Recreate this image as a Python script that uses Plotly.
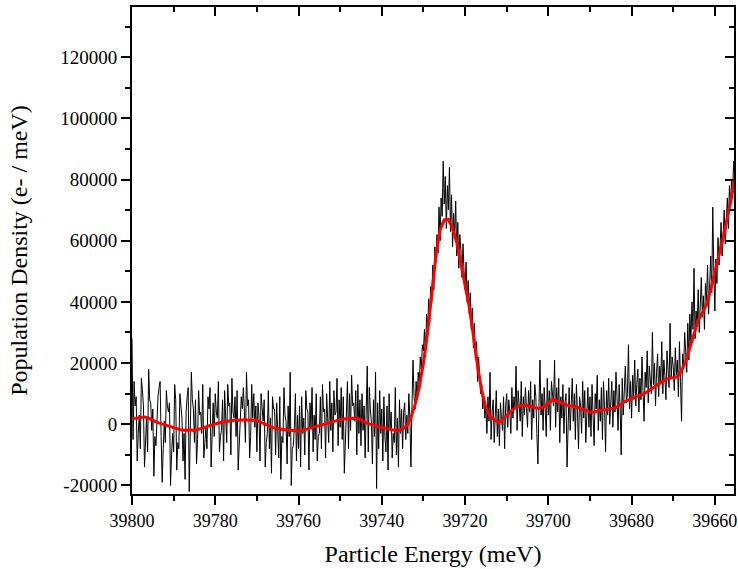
import numpy as np
import plotly.graph_objects as go

# ---- data (values in thousands of e-/meV) ----
raw_start = 39800.0
raw_step = 0.25
raw_k = [
    28, -5, 14, 6, 9, -12, -3, 3, -8, 15, 11, 6, -14, -6, 2, -9, 18, 8, 7, -2,
    5, -17, -4, -7, 3, 9, 12, 14, -4, -19, -8, 1, -6, 11, 6, 4, 7, -20, -10, -3,
    -9, 13, 8, -15, -6, -8, 10, 5, 2, -12, -3, -18, 4, 9, 12, -22, -7, 17, 8, 5,
    -6, 8, -13, -5, 11, 3, 4, -3, 13, -11, -6, -1, -8, 9, 5, 12, -14, -2, 7, -4,
    10, 4, 2, 14, -9, -4, -2, 8, -12, 11, 3, -6, 13, 6, 7, -10, 15, 4, 2, 9,
    -4, 11, -15, -7, -2, 9, 5, 12, 4, -6, 17, 6, 8, -11, -4, 13, 2, 10, -1, 6,
    -9, 7, 3, -12, 10, 4, 1, 8, -14, -6, -3, 11, -8, 2, -16, 9, 5, 5, -10, 7,
    -2, -11, 9, -18, -4, -6, 12, 3, 1, -13, 6, -4, 17, -20, -8, -7, -1, 10, -12, 3,
    -8, 6, -14, 9, -3, 2, -10, 11, 5, 4, -15, 7, -1, 12, -9, 3, -5, 10, -12, -4,
    -3, 9, -8, 13, 4, 5, -11, 10, 2, -6, 14, -2, 7, -9, 11, 3, 4, 15, -7, 8,
    -1, 12, -5, 9, -16, -6, 3, 14, -8, 10, -2, 16, 6, 7, 1, 11, -10, 13, -3, 8,
    -7, 10, -2, 6, -11, 4, 19, -9, 12, 5, 1, -13, 8, -4, 17, -21, 7, -8, 11, -3,
    5, -12, 9, -4, -9, 6, -15, 10, -2, 4, -11, -3, -6, 12, -10, 2, -14, 8, -3, 5,
    -8, 4, 7, -5, 3, -3, 10, 2, -14, 6, 21, 9, 5, 14, 8, 17, 13, 22, 18, 26,
    24, 31, 22, 36, 30, 41, 33, 45, 40, 52, 44, 58, 53, 62, 56, 71, 60, 74, 68, 86,
    72, 81, 64, 78, 70, 84, 63, 75, 58, 69, 61, 73, 55, 66, 51, 62, 57, 48, 59, 50,
    44, 53, 40, 47, 36, 43, 31, 38, 25, 33, 21, 27, 14, 22, 17, 10, 13, 5, 9, 2,
    6, -3, 9, 1, 17, -5, 4, 8, -6, 3, 11, -4, 5, -7, 7, 2, -2, 9, -8, 6,
    10, -1, 8, 4, -3, 12, 2, 9, 5, 19, -2, 11, 7, 1, 14, -4, 9, 3, 12, 6,
    -1, 11, 4, 14, -5, 8, 2, 13, 9, -3, -13, 6, 21, 3, 10, -2, 12, 5, -4, 15,
    3, 11, -2, 14, 8, 6, 21, -1, 12, 4, 15, -6, 9, 2, 13, -3, 7, 10, -14, 5,
    12, -2, 8, 15, 1, 10, -5, 13, 4, -8, 9, 6, -3, 14, 2, 11, -6, 7, 12, -1,
    9, -4, 13, 3, -7, 10, 5, 16, -2, 8, 1, 12, -5, 14, 6, -9, 11, 3, 15, 0,
    8, 14, -1, 11, 4, 17, 9, -2, 13, 6, -10, 15, 3, 12, 19, 7, 10, 26, 5, 14,
    2, 16, 9, 21, 6, 13, 18, 4, 15, 8, 22, 11, 1, 17, 12, 24, 7, 19, 14, 10,
    30, 13, 20, 6, 17, 23, 9, 19, 14, 27, 10, 21, 16, 8, 24, 18, 12, 33, 15, 22,
    19, 11, 25, 16, 21, 9, 27, 14, 1, 23, 18, 30, 24, 17, 33, 21, 36, 27, 40, 31,
    51, 28, 37, 32, 44, 30, 39, 48, 35, 42, 31, 46, 40, 52, 36, 47, 55, 43, 71, 50,
    37, 54, 46, 61, 52, 58, 66, 55, 63, 70, 59, 68, 74, 64, 78, 71, 80, 75, 86, 79,
    84,
]

fit_start = 39800.0
fit_step = 1.0
fit_k = [
    1.8, 2.0, 2.2, 2.4, 2.0, 1.2, 0.6, 0.2, -0.3, -0.7,
    -1.1, -1.5, -1.9, -2.0, -1.8, -2.1, -1.6, -1.1, -0.6, -0.3,
    0.1, 0.5, 0.8, 1.0, 1.3, 1.4, 1.3, 1.5, 1.3, 1.4,
    1.2, 0.6, 0.1, -0.6, -1.2, -1.4, -1.7, -1.9, -2.0, -2.1,
    -2.2, -2.0, -1.6, -1.2, -0.8, -0.5, -0.1, 0.4, 0.8, 1.1,
    1.5, 1.7, 1.8, 1.7, 2.0, 1.4, 0.6, 0.1, -0.4, -0.8,
    -1.1, -1.3, -1.6, -2.0, -2.1, -1.5, -0.5, 2.2, 6.5, 12.0,
    20.0, 30.0, 43.0, 55.0, 63.5, 66.8, 67.0, 64.0, 59.5, 52.5,
    46.0, 38.5, 29.0, 19.0, 11.0, 5.5, 2.6, 1.5, 0.5, 1.5,
    3.0, 4.2, 5.3, 6.0, 6.2, 6.1, 5.8, 5.3, 5.2, 5.8,
    7.0, 8.0, 7.6, 7.0, 6.5, 6.1, 5.9, 5.5, 5.0, 4.6,
    3.9, 4.0, 4.4, 4.6, 5.0, 5.2, 5.3, 6.0, 7.1, 7.8,
    8.2, 9.0, 9.4, 10.0, 10.8, 11.8, 12.6, 13.6, 14.5, 15.0,
    15.2, 15.5, 17.6, 20.5, 25.0, 29.5, 34.0, 36.5, 39.0, 44.0,
    49.5, 56.0, 61.0, 67.5, 74.0, 83.0,
]

x_ticks = [39800, 39780, 39760, 39740, 39720, 39700, 39680, 39660]
x_tick_text = ["39800", "39780", "39760", "39740", "39720", "39700", "39680", "39660"]
y_ticks = [-20000, 0, 20000, 40000, 60000, 80000, 100000, 120000]
y_tick_text = ["-20000", "0", "20000", "40000", "60000", "80000", "100000", "120000"]

x_range = [39800, 39655.4]
y_range = [-22800, 136400]

# ---- build ----
raw_x = raw_start - raw_step * np.arange(len(raw_k))
raw_y = np.array(raw_k, dtype=float) * 1000
fit_x = fit_start - fit_step * np.arange(len(fit_k))
fit_y = np.array(fit_k, dtype=float) * 1000

FONT = "Liberation Serif"

fig = go.Figure()
fig.add_trace(go.Scatter(x=raw_x, y=raw_y, mode="lines",
                         line=dict(color="black", width=1), showlegend=False))
fig.add_trace(go.Scatter(x=fit_x, y=fit_y, mode="lines",
                         line=dict(color="#ff0000", width=3), showlegend=False))
# dummy trace to materialise the mirrored tick axes
fig.add_trace(go.Scatter(x=[None], y=[None], xaxis="x2", yaxis="y2",
                         showlegend=False, hoverinfo="skip"))

common = dict(showgrid=False, zeroline=False, color="black")
fig.update_layout(
    width=738, height=569,
    margin=dict(l=132, r=4, t=7, b=75),
    paper_bgcolor="white", plot_bgcolor="white",
    font=dict(family=FONT, color="black"),
    xaxis=dict(range=x_range, tickvals=x_ticks, ticktext=x_tick_text,
               ticks="outside", ticklen=9, tickwidth=2, tickcolor="black",
               minor=dict(ticks="outside", ticklen=5, tickwidth=2, dtick=10,
                          tick0=39800, tickcolor="black"),
               showline=True, linewidth=2, linecolor="black", mirror=True,
               tickfont=dict(size=18, family=FONT),
               ticklabeloverflow="allow",
               automargin=False,
               title=dict(text="Particle Energy (meV)",
                          font=dict(size=24, family=FONT), standoff=16),
               **common),
    yaxis=dict(range=y_range, tickvals=y_ticks, ticktext=y_tick_text,
               ticks="outside", ticklen=9, tickwidth=2, tickcolor="black",
               minor=dict(ticks="outside", ticklen=5, tickwidth=2, dtick=10000,
                          tick0=0, tickcolor="black"),
               showline=True, linewidth=2, linecolor="black", mirror=True,
               tickfont=dict(size=19, family=FONT),
               ticklabeloverflow="allow",
               automargin=False,
               title=dict(text="Population Density (e- / meV)",
                          font=dict(size=24, family=FONT), standoff=26),
               **common),
    xaxis2=dict(range=x_range, overlaying="x", side="top", anchor="y",
                tickvals=x_ticks, showticklabels=False,
                ticks="inside", ticklen=9, tickwidth=2, tickcolor="black",
                minor=dict(ticks="inside", ticklen=5, tickwidth=2, dtick=10,
                           tick0=39800, tickcolor="black"),
                showline=False, automargin=False, **common),
    yaxis2=dict(range=y_range, overlaying="y", side="right", anchor="x",
                tickvals=y_ticks, showticklabels=False,
                ticks="inside", ticklen=9, tickwidth=2, tickcolor="black",
                minor=dict(ticks="inside", ticklen=5, tickwidth=2, dtick=10000,
                           tick0=0, tickcolor="black"),
                showline=False, automargin=False, **common),
)

fig.write_html("out.html")
